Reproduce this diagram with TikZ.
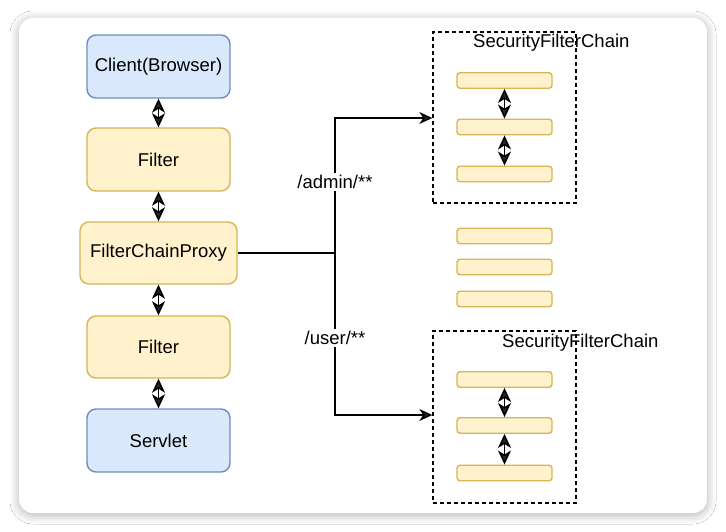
\documentclass[tikz,border=0pt]{standalone}
\usepackage{fontspec}
\setmainfont{Liberation Sans}
\usetikzlibrary{arrows.meta,shadows.blur}
\definecolor{bluefill}{HTML}{DAE8FC}
\definecolor{bluedraw}{HTML}{6C8EBF}
\definecolor{yelfill}{HTML}{FFF2CC}
\definecolor{yeldraw}{HTML}{D6B656}
\tikzset{
  mainbox/.style={rounded corners=9pt, line width=1.4pt, minimum width=143pt, minimum height=63pt, font=\fontsize{18.5}{21}\selectfont, inner sep=0pt},
  bluebox/.style={mainbox, fill=bluefill, draw=bluedraw},
  yelbox/.style={mainbox, fill=yelfill, draw=yeldraw},
  bar/.style={rounded corners=3pt, line width=1.4pt, fill=yelfill, draw=yeldraw, minimum width=95pt, minimum height=15.5pt, inner sep=0pt},
  chainbox/.style={draw=black, dashed, dash pattern=on 4pt off 3pt, line width=1.4pt, inner sep=0pt},
  dbl/.style={line width=1.5pt, {Stealth[length=14pt,width=13pt,inset=4pt]}-{Stealth[length=14pt,width=13pt,inset=4pt]}},
  conn/.style={line width=1.4pt, -{Stealth[length=13pt,width=12pt,inset=4pt]}},
  lbl/.style={font=\fontsize{18.5}{21}\selectfont, fill=white, inner sep=2pt},
  ttl/.style={font=\fontsize{18.5}{21}\selectfont, inner sep=0pt, anchor=west}
}
\begin{document}
\begin{tikzpicture}[x=1pt,y=-1pt]
\useasboundingbox (0,0) rectangle (726,532);
\fill[white] (0,0) rectangle (726,532);
\fill[white, rounded corners=14pt, blur shadow={shadow blur steps=16, shadow blur radius=9pt, shadow blur extra rounding=8pt, shadow xshift=0pt, shadow yshift=-2pt, shadow opacity=30, shadow scale=1.0}] (19,18) rectangle (707,513);

% left column
\node[bluebox] (client) at (158.5,66.5) {Client(Browser)};
\node[yelbox] (f1) at (158.5,159.5) {Filter};
\node[yelbox, minimum width=157pt, minimum height=62pt] (proxy) at (158.5,253) {FilterChainProxy};
\node[yelbox, minimum height=62pt] (f2) at (158.5,347) {Filter};
\node[bluebox] (servlet) at (158.5,440.5) {Servlet};

\draw[dbl] (client.south) -- (f1.north);
\draw[dbl] (f1.south) -- (proxy.north);
\draw[dbl] (proxy.south) -- (f2.north);
\draw[dbl] (f2.south) -- (servlet.north);

% security filter chain 1
\node[chainbox, minimum width=143pt, minimum height=171pt] (c1) at (504.5,117.5) {};
\node[ttl] (t1) at (473,43) {SecurityFilterChain};
\node[bar] (a1) at (504.5,80.5) {};
\node[bar] (a2) at (504.5,127) {};
\node[bar] (a3) at (504.5,174) {};
\draw[dbl] (a1.south) -- (a2.north);
\draw[dbl] (a2.south) -- (a3.north);

% middle bars
\node[bar] (m1) at (504.5,236) {};
\node[bar] (m2) at (504.5,267) {};
\node[bar] (m3) at (504.5,299) {};

% security filter chain 2
\node[chainbox, minimum width=143pt, minimum height=172pt] (c2) at (504.5,417) {};
\node[ttl] (t2) at (502,343) {SecurityFilterChain};
\node[bar] (b1) at (504.5,379.5) {};
\node[bar] (b2) at (504.5,425.5) {};
\node[bar] (b3) at (504.5,473) {};
\draw[dbl] (b1.south) -- (b2.north);
\draw[dbl] (b2.south) -- (b3.north);

% connectors
\coordinate (fork) at (335,253);
\draw[line width=1.4pt] (proxy.east) -- (fork);
\draw[conn] (fork) |- (c1.west |- 0,118);
\draw[conn] (fork) |- (c2.west |- 0,415);
\node[lbl] (la) at (335,182) {/admin/**};
\node[lbl] (lu) at (335,338) {/user/**};
\end{tikzpicture}
\end{document}
